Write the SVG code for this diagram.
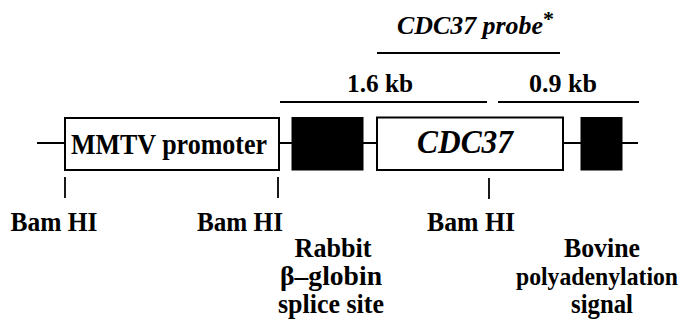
<svg xmlns="http://www.w3.org/2000/svg" width="687" height="331" viewBox="0 0 687 331">
<style>
.t{font-family:"Liberation Serif","Times New Roman",serif;font-weight:bold;fill:#000}
.i{font-style:italic}
.c{text-anchor:middle}
.ln{stroke:#000;stroke-width:2;fill:none}
.tk{stroke:#000;stroke-width:1.8;fill:none}
.box{fill:#fff;stroke:#000;stroke-width:2}
.blk{fill:#000;stroke:#000;stroke-width:1}
</style>
<rect width="687" height="331" fill="#fff"/>
<g id="connectors">
<line class="ln" x1="37" y1="143" x2="638" y2="143"/>
<line class="ln" x1="377" y1="53" x2="560" y2="53"/>
<line class="ln" x1="280" y1="102" x2="487" y2="102"/>
<line class="ln" x1="498" y1="102" x2="639" y2="102"/>
<line class="tk" x1="65" y1="177" x2="65" y2="198"/>
<line class="tk" x1="278" y1="177" x2="278" y2="198"/>
<line class="tk" x1="489" y1="178" x2="489" y2="199"/>
</g>
<g id="mmtv">
<rect class="box" x="65" y="118" width="214" height="52"/>
<text class="t c" x="169" y="154" font-size="30" textLength="196" lengthAdjust="spacingAndGlyphs">MMTV promoter</text>
</g>
<g id="splice-exon"><rect class="blk" x="292" y="117.5" width="71" height="52.5"/></g>
<g id="cdc37">
<rect class="box" x="377" y="117.5" width="186" height="52.5"/>
<text class="t i c" x="465" y="153" font-size="34" textLength="96" lengthAdjust="spacingAndGlyphs">CDC37</text>
</g>
<g id="polya-exon"><rect class="blk" x="581" y="117.5" width="41" height="52.5"/></g>
<g id="probe-label">
<text class="t i" x="397" y="34" font-size="26" textLength="146" lengthAdjust="spacingAndGlyphs">CDC37 probe</text>
<text class="t" x="543" y="26" font-size="22">*</text>
</g>
<g id="frag1"><text class="t c" x="380" y="92" font-size="26" textLength="66" lengthAdjust="spacingAndGlyphs">1.6 kb</text></g>
<g id="frag2"><text class="t c" x="563" y="92" font-size="26" textLength="68" lengthAdjust="spacingAndGlyphs">0.9 kb</text></g>
<g id="bam1"><text class="t c" x="54" y="231" font-size="27" textLength="87" lengthAdjust="spacingAndGlyphs">Bam HI</text></g>
<g id="bam2"><text class="t c" x="240" y="231" font-size="27" textLength="86" lengthAdjust="spacingAndGlyphs">Bam HI</text></g>
<g id="bam3"><text class="t c" x="471" y="231" font-size="27" textLength="88" lengthAdjust="spacingAndGlyphs">Bam HI</text></g>
<g id="rabbit">
<text class="t c" x="333" y="257" font-size="27" textLength="77" lengthAdjust="spacingAndGlyphs">Rabbit</text>
<text class="t c" x="331" y="285" font-size="27" textLength="102" lengthAdjust="spacingAndGlyphs">β–globin</text>
<text class="t c" x="331" y="313" font-size="27" textLength="106" lengthAdjust="spacingAndGlyphs">splice site</text>
</g>
<g id="bovine">
<text class="t c" x="602" y="257" font-size="27" textLength="76" lengthAdjust="spacingAndGlyphs">Bovine</text>
<text class="t c" x="597" y="285" font-size="25" textLength="162" lengthAdjust="spacingAndGlyphs">polyadenylation</text>
<text class="t c" x="602" y="313" font-size="27" textLength="62" lengthAdjust="spacingAndGlyphs">signal</text>
</g>
</svg>
